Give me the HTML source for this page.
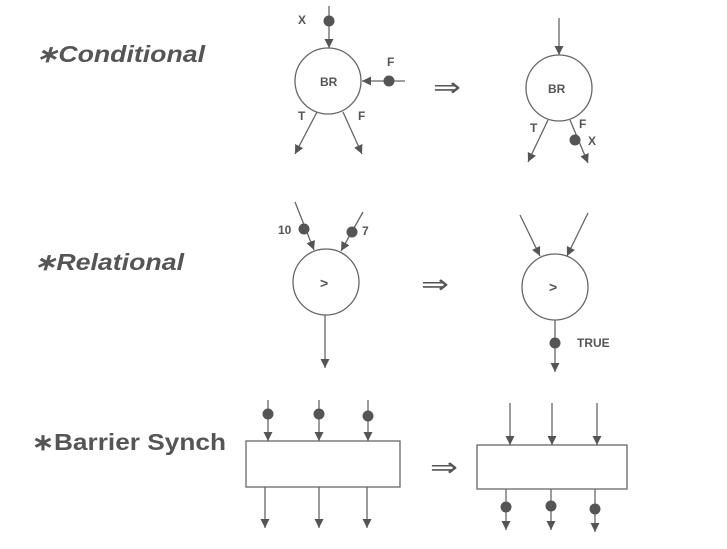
<!DOCTYPE html>
<html><head><style>
html,body{margin:0;padding:0;background:#fff;}
svg{display:block;}
text{font-family:"Liberation Sans",sans-serif;font-weight:bold;fill:#555;}
</style></head><body>
<svg width="727" height="549" viewBox="0 0 727 549" xmlns="http://www.w3.org/2000/svg">
<defs>
<marker id="a" viewBox="0 0 10 10" refX="10" refY="5" markerWidth="9" markerHeight="9" markerUnits="userSpaceOnUse" orient="auto"><path d="M0,0 L10,5 L0,10 z" fill="#555"/></marker>
</defs>
<g stroke="#666" stroke-width="1.3" fill="none">
<circle cx="328" cy="81" r="33"/>
<line x1="329" y1="6" x2="329" y2="48" marker-end="url(#a)"/>
<line x1="405" y1="81" x2="362" y2="81" marker-end="url(#a)"/>
<line x1="317" y1="112" x2="295" y2="154" marker-end="url(#a)"/>
<line x1="343" y1="112" x2="362" y2="154" marker-end="url(#a)"/>
<circle cx="559" cy="88" r="33"/>
<line x1="559" y1="18" x2="559" y2="55" marker-end="url(#a)"/>
<line x1="548" y1="120" x2="528" y2="162" marker-end="url(#a)"/>
<line x1="570" y1="120" x2="588" y2="163" marker-end="url(#a)"/>
<circle cx="326" cy="282" r="33"/>
<line x1="295" y1="202" x2="314" y2="250" marker-end="url(#a)"/>
<line x1="363" y1="212" x2="341" y2="251" marker-end="url(#a)"/>
<line x1="325" y1="315" x2="325" y2="368" marker-end="url(#a)"/>
<circle cx="555" cy="287" r="33"/>
<line x1="520" y1="215" x2="540" y2="256" marker-end="url(#a)"/>
<line x1="588" y1="213" x2="567" y2="256" marker-end="url(#a)"/>
<line x1="555" y1="320" x2="555" y2="372" marker-end="url(#a)"/>
<rect x="246" y="441" width="154" height="46"/>
<line x1="268" y1="400" x2="268" y2="441" marker-end="url(#a)"/>
<line x1="319" y1="400" x2="319" y2="441" marker-end="url(#a)"/>
<line x1="368" y1="400" x2="368" y2="441" marker-end="url(#a)"/>
<line x1="265" y1="487" x2="265" y2="528" marker-end="url(#a)"/>
<line x1="319" y1="487" x2="319" y2="528" marker-end="url(#a)"/>
<line x1="367" y1="487" x2="367" y2="528" marker-end="url(#a)"/>
<rect x="477" y="445" width="150" height="44"/>
<line x1="510" y1="403" x2="510" y2="445" marker-end="url(#a)"/>
<line x1="552" y1="403" x2="552" y2="445" marker-end="url(#a)"/>
<line x1="597" y1="403" x2="597" y2="445" marker-end="url(#a)"/>
<line x1="506" y1="489" x2="506" y2="530" marker-end="url(#a)"/>
<line x1="551" y1="489" x2="551" y2="530" marker-end="url(#a)"/>
<line x1="595" y1="489" x2="595" y2="532" marker-end="url(#a)"/>
</g>
<g fill="#555">
<circle cx="329" cy="21" r="5.5"/>
<circle cx="389" cy="81" r="5.5"/>
<circle cx="575" cy="140" r="5.5"/>
<circle cx="304" cy="229" r="5.5"/>
<circle cx="352" cy="232" r="5.5"/>
<circle cx="555" cy="343" r="5.5"/>
<circle cx="268" cy="414" r="5.5"/>
<circle cx="319" cy="414" r="5.5"/>
<circle cx="368" cy="416" r="5.5"/>
<circle cx="506" cy="507" r="5.5"/>
<circle cx="551" cy="506" r="5.5"/>
<circle cx="595" cy="509" r="5.5"/>
</g>
<g font-size="12">
<text x="298" y="24">X</text>
<text x="387" y="66">F</text>
<text x="320" y="86">BR</text>
<text x="298" y="120">T</text>
<text x="358" y="120">F</text>
<text x="548" y="93">BR</text>
<text x="530" y="132">T</text>
<text x="579" y="128">F</text>
<text x="588" y="145">X</text>
<text x="278" y="234">10</text>
<text x="362" y="235">7</text>
<text x="577" y="347">TRUE</text>
</g>
<text x="320" y="288" font-size="14">&gt;</text>
<text x="549" y="292" font-size="14">&gt;</text>
<g font-size="26">
<text x="433" y="96" textLength="28" lengthAdjust="spacingAndGlyphs" style="font-weight:normal">⇒</text>
<text x="421" y="293" textLength="28" lengthAdjust="spacingAndGlyphs" style="font-weight:normal">⇒</text>
<text x="430" y="476" textLength="28" lengthAdjust="spacingAndGlyphs" style="font-weight:normal">⇒</text>
</g>
<text x="36" y="62" font-size="23" font-style="italic" textLength="169" lengthAdjust="spacingAndGlyphs">∗Conditional</text>
<text x="34" y="270" font-size="23" font-style="italic" textLength="150" lengthAdjust="spacingAndGlyphs">∗Relational</text>
<text x="32" y="450" font-size="23" textLength="194" lengthAdjust="spacingAndGlyphs">∗Barrier Synch</text>
</svg>
</body></html>
